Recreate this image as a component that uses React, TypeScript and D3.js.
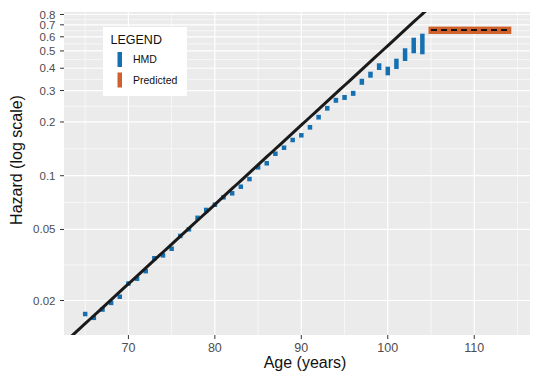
import React from "react";
import * as d3 from "d3";

// ---- data ----
const ages = [65,66,67,68,69,70,71,72,73,74,75,76,77,78,79,80,81,82,83,84,85,86,87,88,89,90,91,92,93,94,95,96,97,98,99,100,101,102,103,104];
const hmdRate = [0.0168,0.0160,0.0178,0.0194,0.0210,0.0249,0.0265,0.0292,0.0345,0.0358,0.0390,0.0460,0.0501,0.0581,0.0643,0.0688,0.0757,0.0797,0.0868,0.0958,0.1114,0.1174,0.1328,0.1435,0.1585,0.1684,0.1867,0.2127,0.2386,0.2645,0.2743,0.2894,0.3358,0.3680,0.4080,0.3860,0.4245,0.4762,0.5365,0.5468];
const hmdLow = [0.0168,0.0160,0.0178,0.0194,0.0210,0.0249,0.0265,0.0292,0.0345,0.0358,0.0390,0.0460,0.0501,0.0581,0.0643,0.0688,0.0757,0.0797,0.0868,0.0958,0.1114,0.1174,0.1328,0.1435,0.1585,0.1684,0.1865,0.2124,0.2382,0.2638,0.2735,0.2884,0.3326,0.3645,0.4025,0.3758,0.4078,0.4521,0.4993,0.4929];
const hmdHigh = [0.0168,0.0160,0.0178,0.0194,0.0210,0.0249,0.0265,0.0292,0.0345,0.0358,0.0390,0.0460,0.0501,0.0581,0.0643,0.0688,0.0757,0.0797,0.0868,0.0958,0.1114,0.1174,0.1328,0.1435,0.1585,0.1684,0.1869,0.2130,0.2390,0.2652,0.2751,0.2904,0.3390,0.3715,0.4140,0.3963,0.4394,0.5025,0.5761,0.6066];

const predAges = [105, 114];
const predRate = 0.655;
const predLow = 0.622;
const predHigh = 0.684;

// Gompertz fit: hazard = a * exp(b * (age - refAge))
const gompertzRefAge = 70;
const gompertzA = 0.02478;
const gompertzB = 0.1024;

const xTicks = [70, 80, 90, 100, 110];
const xMinorTicks = [65, 75, 85, 95, 105, 115];
const yTicks = [0.02, 0.05, 0.1, 0.2, 0.3, 0.4, 0.5, 0.6, 0.7, 0.8];

const legendItems = ["HMD", "Predicted"];
const xTitle = "Age (years)";
const yTitle = "Hazard (log scale)";
const legendTitle = "LEGEND";

// ---- layout/style ----
const W = 550, H = 380;
const P = { left: 64, right: 530, top: 12, bottom: 335 };
const BLUE = "#1470b0";
const ORANGE = "#d2602a";
const FONT = "'Liberation Sans', Arial, Helvetica, sans-serif";

export default function App() {
  const xMin = d3.min(ages.concat(predAges))!;
  const xMax = d3.max(ages.concat(predAges))!;
  const xPad = (xMax - xMin) * 0.05;
  const x = d3.scaleLinear().domain([xMin - xPad, xMax + xPad]).range([P.left, P.right]);
  const y = d3.scaleLog().domain([0.01282, 0.826]).range([P.bottom, P.top]);

  const yMinor = yTicks.slice(1).map((v, i) => Math.sqrt(v * yTicks[i]));

  const lineAges = d3.range(x.domain()[0], x.domain()[1] + 0.01, 0.5);
  const gomp = (a: number) => gompertzA * Math.exp(gompertzB * (a - gompertzRefAge));
  const linePath = d3.line<number>().x((a) => x(a)).y((a) => y(gomp(a)))(lineAges) || "";

  const bw = 4.5;

  return (
    <div style={{ position: "absolute", left: 0, top: 0 }}>
      <svg width={W} height={H} style={{ display: "block", background: "#fff" }}>
        <defs>
          <clipPath id="panel">
            <rect x={P.left} y={P.top} width={P.right - P.left} height={P.bottom - P.top} />
          </clipPath>
        </defs>
        <rect x={P.left} y={P.top} width={P.right - P.left} height={P.bottom - P.top} fill="#EBEBEB" />
        {/* minor grid */}
        {yMinor.map((v, i) => (
          <line key={"ym" + i} x1={P.left} x2={P.right} y1={y(v)} y2={y(v)} stroke="#fff" strokeWidth={0.6} />
        ))}
        {xMinorTicks.map((v, i) => (
          <line key={"xm" + i} x1={x(v)} x2={x(v)} y1={P.top} y2={P.bottom} stroke="#fff" strokeWidth={0.6} />
        ))}
        {/* major grid */}
        {yTicks.map((v, i) => (
          <line key={"yg" + i} x1={P.left} x2={P.right} y1={y(v)} y2={y(v)} stroke="#fff" strokeWidth={1.2} />
        ))}
        {xTicks.map((v, i) => (
          <line key={"xg" + i} x1={x(v)} x2={x(v)} y1={P.top} y2={P.bottom} stroke="#fff" strokeWidth={1.2} />
        ))}

        <g clipPath="url(#panel)">
          {/* HMD bars */}
          {ages.map((a, i) => {
            const top = y(hmdHigh[i]);
            const bot = y(hmdLow[i]);
            return (
              <rect key={"b" + i} x={x(a) - bw / 2} y={top - bw / 2} width={bw} height={bot - top + bw} fill={BLUE} />
            );
          })}
          {/* Predicted */}
          <rect
            x={x(predAges[0]) - 2.5}
            y={y(predHigh)}
            width={x(predAges[1]) - x(predAges[0]) + 5}
            height={y(predLow) - y(predHigh)}
            fill={ORANGE}
          />
          <line
            x1={x(predAges[0])}
            x2={x(predAges[1])}
            y1={y(predRate)}
            y2={y(predRate)}
            stroke="#111"
            strokeWidth={2}
            strokeDasharray="6,4"
          />
          {/* Gompertz line */}
          <path d={linePath} fill="none" stroke="#1a1a1a" strokeWidth={3} />
        </g>

        {/* axes ticks and labels */}
        {yTicks.map((v, i) => (
          <g key={"yt" + i}>
            <line x1={P.left - 4} x2={P.left} y1={y(v)} y2={y(v)} stroke="#333" strokeWidth={1} />
            <text x={P.left - 8.5} y={y(v)} dy="0.35em" textAnchor="end" fontFamily={FONT} fontSize={11.5} fill="#4D4D4D">
              {String(v)}
            </text>
          </g>
        ))}
        {xTicks.map((v, i) => (
          <g key={"xt" + i}>
            <line x1={x(v)} x2={x(v)} y1={P.bottom} y2={P.bottom + 4} stroke="#333" strokeWidth={1} />
            <text x={x(v)} y={P.bottom + 16.5} textAnchor="middle" fontFamily={FONT} fontSize={12.5} fill="#4D4D4D">
              {String(v)}
            </text>
          </g>
        ))}
        <text x={305} y={368} textAnchor="middle" fontFamily={FONT} fontSize={16} fill="#111">
          {xTitle}
        </text>
        <text
          transform={`translate(22, 160) rotate(-90)`}
          textAnchor="middle"
          fontFamily={FONT}
          fontSize={16}
          fill="#111"
        >
          {yTitle}
        </text>

        {/* legend */}
        <g>
          <rect x={103} y={27} width={84} height={69} fill="#fff" />
          <text x={110.5} y={44} fontFamily={FONT} fontSize={12.5} fill="#111">
            {legendTitle}
          </text>
          {legendItems.map((name, i) => (
            <g key={name}>
              <rect x={117.5} y={52 + i * 20.5} width={bw} height={15} fill={i === 0 ? BLUE : ORANGE} />
              <text x={133} y={59.5 + i * 20.5} dy="0.35em" fontFamily={FONT} fontSize={10.5} fill="#111">
                {name}
              </text>
            </g>
          ))}
        </g>
      </svg>
    </div>
  );
}
